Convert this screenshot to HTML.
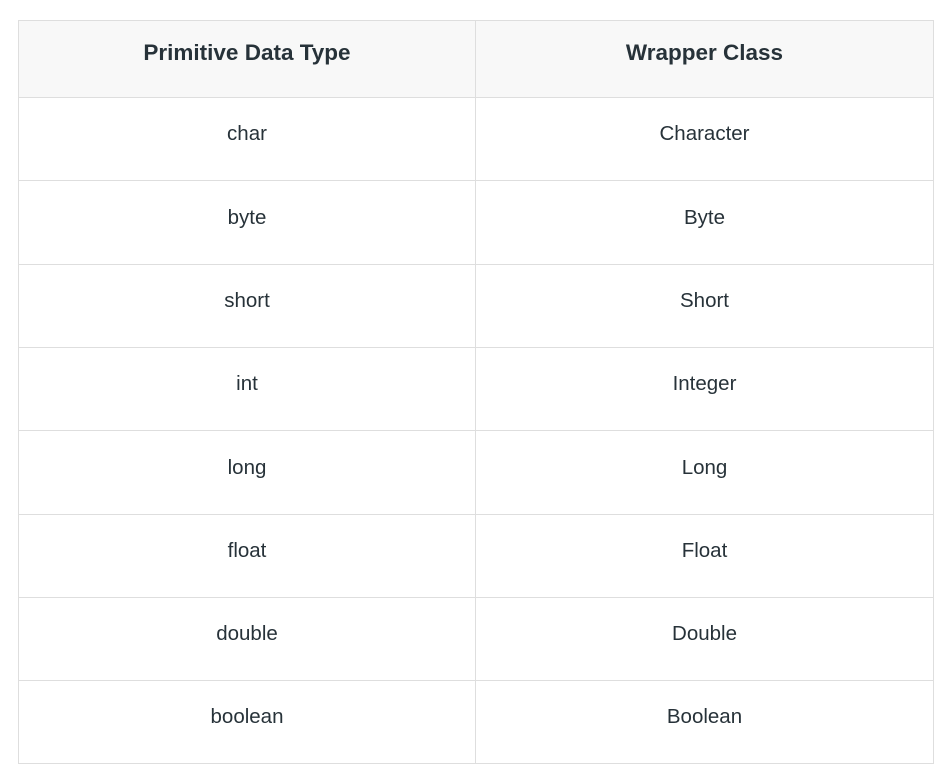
<!DOCTYPE html>
<html><head><style>
body{margin:0;width:946px;height:768px;background:#fff;position:relative;font-family:"Liberation Sans",sans-serif;color:#273239;}
.c{position:absolute;box-sizing:border-box;border:1px solid #dedede;display:flex;align-items:center;justify-content:center;font-size:20.5px;padding-bottom:10px;}
.h{background:#f8f8f8;font-weight:bold;font-size:22.5px;padding-bottom:12px;}
</style></head><body>
<div class="c h" style="left:18px;top:20px;width:458px;height:78px">Primitive Data Type</div>
<div class="c h" style="left:475px;top:20px;width:459px;height:78px">Wrapper Class</div>
<div class="c" style="left:18px;top:97px;width:458px;height:84px">char</div>
<div class="c" style="left:475px;top:97px;width:459px;height:84px">Character</div>
<div class="c" style="left:18px;top:180px;width:458px;height:85px">byte</div>
<div class="c" style="left:475px;top:180px;width:459px;height:85px">Byte</div>
<div class="c" style="left:18px;top:264px;width:458px;height:84px">short</div>
<div class="c" style="left:475px;top:264px;width:459px;height:84px">Short</div>
<div class="c" style="left:18px;top:347px;width:458px;height:84px">int</div>
<div class="c" style="left:475px;top:347px;width:459px;height:84px">Integer</div>
<div class="c" style="left:18px;top:430px;width:458px;height:85px">long</div>
<div class="c" style="left:475px;top:430px;width:459px;height:85px">Long</div>
<div class="c" style="left:18px;top:514px;width:458px;height:84px">float</div>
<div class="c" style="left:475px;top:514px;width:459px;height:84px">Float</div>
<div class="c" style="left:18px;top:597px;width:458px;height:84px">double</div>
<div class="c" style="left:475px;top:597px;width:459px;height:84px">Double</div>
<div class="c" style="left:18px;top:680px;width:458px;height:84px">boolean</div>
<div class="c" style="left:475px;top:680px;width:459px;height:84px">Boolean</div>
</body></html>
